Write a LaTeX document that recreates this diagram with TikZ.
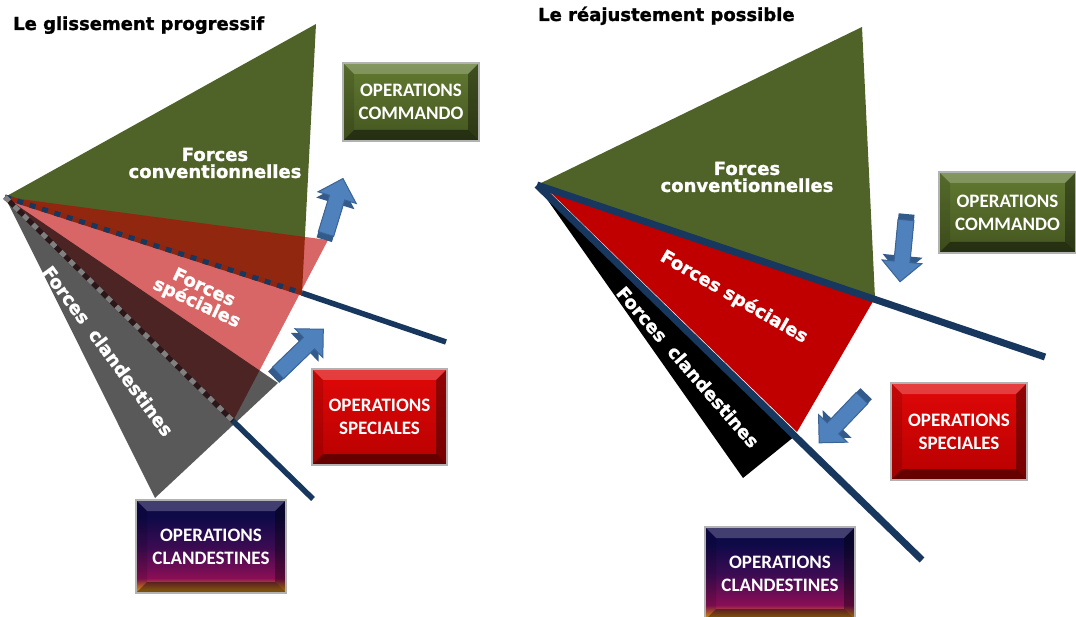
\documentclass[tikz,border=0pt]{standalone}
\usepackage{fontspec}
\usepackage{tikz}
\usetikzlibrary{
  arrows.meta,
  calc,
  positioning
}
\newfontfamily\heavyfont{DejaVu Sans}[BoldFeatures={FakeBold=1.3}]
\newfontfamily\boxfont{Carlito}
\definecolor{fsOlive}{HTML}{4F6228}
\definecolor{fsOliveHi}{HTML}{627A32}
\definecolor{fsOliveLo}{HTML}{44551F}
\definecolor{fsRed}{HTML}{C00000}
\definecolor{fsRedHi}{HTML}{E00808}
\definecolor{fsRedLo}{HTML}{B80000}
\definecolor{fsNavy}{HTML}{17375E}
\definecolor{fsArrow}{HTML}{4F81BD}
\definecolor{fsArrowLine}{HTML}{3A6396}
\definecolor{fsArrowDeep}{HTML}{325A8A}
\definecolor{fsGapRed}{HTML}{8A2612}
\definecolor{fsGapDark}{HTML}{2B1719}
\definecolor{fsDash}{HTML}{808080}
\definecolor{fsOrange}{HTML}{E0901A}
\definecolor{fsMagenta}{HTML}{8A0E56}
\definecolor{fsPurple}{HTML}{3A0B52}
\definecolor{fsInk}{HTML}{0E0A48}
% bottom-up fade of the clandestine box
\pgfdeclareverticalshading{clandfade}{100bp}{
  color(0bp)=(fsOrange); color(27bp)=(fsOrange); color(33bp)=(fsMagenta);
  color(50bp)=(fsPurple); color(66bp)=(fsInk); color(100bp)=(fsInk)}
\tikzset{
  opbox/.style={
    draw=black!30, line width=1.2pt, text=white, align=center, inner sep=0pt,
    font=\boxfont\bfseries\fontsize{19}{23}\selectfont,
    path picture={
      \coordinate (bnw) at (path picture bounding box.north west);
      \coordinate (bse) at (path picture bounding box.south east);
      \fill[white, opacity=.22] (bnw) -- (bnw -| bse) -- ([shift={(-11pt,-11pt)}]bnw -| bse)
        -- ([shift={(11pt,-11pt)}]bnw) -- cycle;
      \fill[black, opacity=.45] (bse) -- (bnw |- bse) -- ([shift={(11pt,11pt)}]bnw |- bse)
        -- ([shift={(-11pt,11pt)}]bse) -- cycle;
      \fill[black, opacity=.12] (bnw) -- (bnw |- bse) -- ([shift={(11pt,11pt)}]bnw |- bse)
        -- ([shift={(11pt,-11pt)}]bnw) -- cycle;
      \fill[black, opacity=.35] (bse) -- (bnw -| bse) -- ([shift={(-11pt,-11pt)}]bnw -| bse)
        -- ([shift={(-11pt,11pt)}]bse) -- cycle;
    }
  },
  cmdbox/.style={opbox, top color=fsOliveHi, bottom color=fsOliveLo},
  spebox/.style={opbox, top color=fsRedHi, bottom color=fsRedLo},
  clabox/.style={opbox, shading=clandfade},
  forcelabel/.style={text=white, align=center, inner sep=0pt,
    font=\heavyfont\bfseries\fontsize{18}{17}\selectfont},
  titletext/.style={anchor=base west, inner sep=0pt,
    font=\heavyfont\bfseries\fontsize{18}{20}\selectfont},
  frontline/.style={fsNavy, line width=#1},
  frontline/.default=5.5pt,
  squaredash/.style={line width=5pt, dash pattern=on 6pt off 7pt},
  pics/fatarrow/.style={code={
    \fill[fsArrowDeep] (-6,-8) -- (#1-26,-8) -- (#1-26,-20) -- (#1-6,0)
      -- (#1-26,20) -- (#1-26,8) -- (-6,8) -- cycle;
    \filldraw[fill=fsArrow, draw=fsArrowLine, line width=1pt] (0,-8) -- (#1-20,-8)
      -- (#1-20,-20) -- (#1,0) -- (#1-20,20) -- (#1-20,8) -- (0,8) -- cycle;
  }}
}

\begin{document}
\begin{tikzpicture}[x=1pt, y=-1pt]
  \useasboundingbox (0,0) rectangle (1076,617);

  % glissement progressif
  \coordinate (gA) at (5,197);
  \coordinate (gTop) at (316,24);
  \coordinate (gLow) at (302,293);
  \coordinate (gRed) at (328,240);
  \coordinate (gRedLow) at (233,421);
  \coordinate (gGrey) at (278,383);
  \coordinate (gGreyLow) at (155,498);
  \coordinate (gEndA) at (446,342);
  \coordinate (gEndB) at (313,499);

  \fill[fsOlive] (gA) -- (gTop) -- (gLow) -- cycle;
  \fill[fsRed, opacity=.6] (gA) -- (gRed) -- (gRedLow) -- cycle;
  \fill[black, opacity=.65] (gA) -- (gGrey) -- (gGreyLow) -- cycle;

  \draw[fsGapRed, line width=5pt] (gA) -- (gLow);
  \draw[fsNavy, squaredash] (gA) -- (gLow);
  \draw[frontline] (gLow) -- (gEndA);
  \draw[fsGapDark, line width=5pt] (gA) -- (gRedLow);
  \draw[fsDash, squaredash] (gA) -- (gRedLow);
  \draw[frontline] (gRedLow) -- (gEndB);

  \node[titletext] (ttlL) at (13,30) {Le glissement progressif};
  \node[forcelabel] (convL) at (215,163) {Forces\\conventionnelles};
  \node[forcelabel, rotate=-25] (specL) at (200,296) {Forces\\spéciales};
  \node[forcelabel, rotate=-53.5] (clandL) at (108,351) {Forces\hspace{.3em} clandestines};

  \node[cmdbox, minimum width=136pt, minimum height=78pt] (cmdL) at (411,102) {OPERATIONS\\COMMANDO};
  \node[spebox, minimum width=135pt, minimum height=96pt] (speL) at (379.5,417) {OPERATIONS\\SPECIALES};
  \node[clabox, minimum width=150pt, minimum height=93pt] (claL) at (211,546.5) {OPERATIONS\\CLANDESTINES};

  % reajustement possible
  \coordinate (rA) at (537,185);
  \coordinate (rTop) at (862,27);
  \coordinate (rLow) at (875,298);
  \coordinate (rRedTip) at (550,192);
  \coordinate (rRedLow) at (797,432);
  \coordinate (rBlack) at (795,436);
  \coordinate (rBlackLow) at (743,478);
  \coordinate (rEndA) at (1045,357);
  \coordinate (rEndB) at (922,560);

  \fill[fsOlive] (rA) -- (rTop) -- (rLow) -- cycle;
  \fill[fsRed] (rRedTip) -- (rLow) -- (rRedLow) -- cycle;
  \fill[black] (rA) -- (rBlack) -- (rBlackLow) -- cycle;
  \draw[frontline=7pt] (rA) -- (rEndA);
  \draw[frontline=7pt] (rA) -- (rEndB);

  \node[titletext] (ttlR) at (538,21) {Le réajustement possible};
  \node[forcelabel] (convR) at (747,177) {Forces\\conventionnelles};
  \node[forcelabel, rotate=-30] (specR) at (734,297) {Forces spéciales};
  \node[forcelabel, rotate=-49] (clandR) at (688,367) {Forces\hspace{.3em} clandestines};

  \node[cmdbox, minimum width=137pt, minimum height=81pt] (cmdR) at (1007.5,212.5) {OPERATIONS\\COMMANDO};
  \node[spebox, minimum width=136pt, minimum height=97pt] (speR) at (959,431.5) {OPERATIONS\\SPECIALES};
  \node[clabox, minimum width=150pt, minimum height=93pt] (claR) at (780,573.5) {OPERATIONS\\CLANDESTINES};

  % shift arrows: tail x / tail y / angle / length
  \foreach \tx/\ty/\ang/\len in {326/234/73/58, 278/373/44/63, 906/220/-95.5/62, 862/398/-133.7/62}
    \pic[rotate=\ang] at (\tx,\ty) {fatarrow=\len};
\end{tikzpicture}
\end{document}
